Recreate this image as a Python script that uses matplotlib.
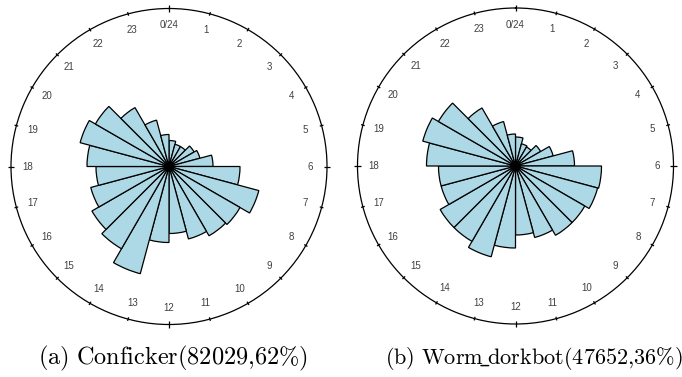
import numpy as np
import matplotlib
matplotlib.use('Agg')
import matplotlib.pyplot as plt

plt.rcParams['mathtext.fontset'] = 'cm'

# ---- data (bar lengths, outer circle = 158) ----
hours = list(range(24))
hour_labels = ['0/24'] + [str(h) for h in range(1, 24)]
conficker = [26, 23, 23, 29, 32, 44, 71, 93, 82, 80, 75, 67,
             76, 111, 95, 89, 81, 73, 82, 92, 85, 68, 48, 32]
dorkbot = [29, 23, 22, 29, 39, 59, 86, 85, 80, 80, 74, 69,
           82, 94, 87, 87, 77, 77, 89, 96, 89, 67, 46, 32]
outer_scale = 158.0
captions = [r'$\mathrm{(a)\ Conficker(82029{,}62\%)}$',
            r'$\mathrm{(b)\ Worm\!\_\!dorkbot(47652{,}36\%)}$']
caption_sizes = [17.5, 16.0]

W, H = 682, 377
fig = plt.figure(figsize=(W / 100, H / 100), dpi=100)

R = 158
centers = [(169, 166.5), (515.5, 166.0)]
series = [conficker, dorkbot]
cap_x = [172.5, 533.5]

for (cx, cy), vals, cap, capx, fs in zip(centers, series, captions, cap_x,
                                          caption_sizes):
    ax = fig.add_axes([(cx - R) / W, (H - cy - R) / H, 2 * R / W, 2 * R / H],
                      projection='polar')
    ax.set_theta_zero_location('N')
    ax.set_theta_direction(-1)
    width = 2 * np.pi / 24
    theta = np.array(hours) * width
    ax.bar(theta, np.array(vals) / outer_scale, width=width, align='edge',
           color='#ADD8E6', edgecolor='black', linewidth=0.9, zorder=3)
    ax.set_ylim(0, 1)
    ax.set_xticks([])
    ax.set_yticks([])
    ax.grid(False)
    ax.spines['polar'].set_linewidth(0.9)
    for h in hours:
        t = h * width
        d = 0.022 if h % 6 == 0 else 0.012
        ax.plot([t, t], [1 - d, 1 + d], color='black', lw=0.9, clip_on=False,
                solid_capstyle='butt')
        ax.text(t, 0.895, hour_labels[h], ha='center', va='center',
                fontsize=7, color='#404040', family='Liberation Sans')
    fig.text(capx / W, 1 - 358 / H, cap, ha='center', va='center',
             fontsize=fs)

fig.savefig('out.png', dpi=100)
